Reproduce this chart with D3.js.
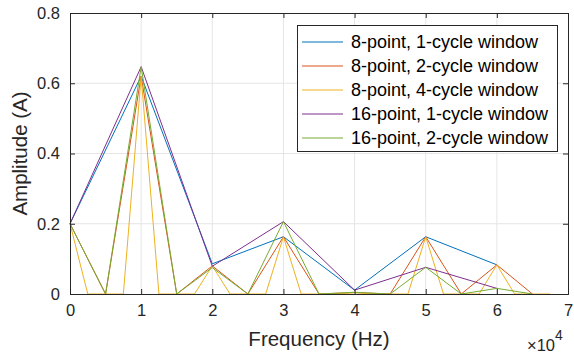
<!DOCTYPE html>
<html>
<head>
<meta charset="utf-8">
<script src="https://cdn.jsdelivr.net/npm/d3@7"></script>
<style>
  body { margin: 0; background: #fff; }
  svg { display: block; font-family: "Liberation Sans", Arial, sans-serif; }
</style>
</head>
<body>
<svg id="chart" width="574" height="354"></svg>
<script>
// amplitude spectra, frequency in units of 1e4 Hz
const names = ["8-point, 1-cycle window", "8-point, 2-cycle window", "8-point, 4-cycle window",
               "16-point, 1-cycle window", "16-point, 2-cycle window"];
const colors = ["#0072BD", "#D95319", "#EDB120", "#7E2F8E", "#77AC30"];

const freq1 = [0, 1, 2, 3, 4, 5, 6];
const freq2 = [0, 0.5, 1, 1.5, 2, 2.5, 3, 3.5, 4, 4.5, 5, 5.5, 6, 6.5];
const freq4 = [0, 0.25, 0.5, 0.75, 1, 1.25, 1.5, 1.75, 2, 2.25, 2.5, 2.75, 3, 3.25, 3.5, 3.75,
               4, 4.25, 4.5, 4.75, 5, 5.25, 5.5, 5.75, 6, 6.25, 6.5, 6.75];

const amp8_1 = [0.2, 0.62, 0.086, 0.163, 0.011, 0.163, 0.083];
const amp8_2 = [0.2, 0, 0.62, 0, 0.08, 0, 0.163, 0, 0.004, 0, 0.163, 0, 0.083, 0];
const amp8_4 = [0.2, 0, 0, 0, 0.62, 0, 0, 0, 0.08, 0, 0, 0, 0.163, 0, 0, 0,
                0.004, 0, 0, 0, 0.163, 0, 0, 0, 0.083, 0, 0, 0];
const amp16_1 = [0.2, 0.647, 0.079, 0.206, 0.011, 0.076, 0.016];
const amp16_2 = [0.2, 0, 0.647, 0, 0.075, 0, 0.206, 0, 0.005, 0, 0.076, 0, 0.016, 0];

const xTicks = [0, 1, 2, 3, 4, 5, 6, 7];
const yTicks = [0, 0.2, 0.4, 0.6, 0.8];

const series = [
  {x: freq1, y: amp8_1},
  {x: freq2, y: amp8_2},
  {x: freq4, y: amp8_4},
  {x: freq1, y: amp16_1},
  {x: freq2, y: amp16_2}
];

const svg = d3.select("#chart");
const m = {left: 70, right: 568, top: 13, bottom: 294};
const x = d3.scaleLinear().domain([0, 7]).range([m.left, m.right]);
const y = d3.scaleLinear().domain([0, 0.8]).range([m.bottom, m.top]);
const axisCol = "#262626";

// grid
const grid = svg.append("g").attr("stroke", "#e5e5e5").attr("stroke-width", 1);
grid.selectAll(".gx").data(xTicks.slice(1, -1)).join("line")
  .attr("x1", d => x(d)).attr("x2", d => x(d))
  .attr("y1", m.top).attr("y2", m.bottom);
grid.selectAll(".gy").data(yTicks.slice(1, -1)).join("line")
  .attr("y1", d => y(d)).attr("y2", d => y(d))
  .attr("x1", m.left).attr("x2", m.right);

// lines
const line = d3.line().x(d => x(d[0])).y(d => y(d[1]));
svg.append("g").selectAll("path").data(series).join("path")
  .attr("fill", "none")
  .attr("stroke", (d, i) => colors[i])
  .attr("stroke-width", 1)
  .attr("d", d => line(d.x.map((v, j) => [v, d.y[j]])));

// axes (box with inner ticks)
const tl = 5;
svg.append("g").attr("transform", `translate(0,${m.bottom})`)
  .call(d3.axisBottom(x).tickValues(xTicks).tickSize(-tl).tickPadding(10).tickFormat(d3.format("d")));
svg.append("g").attr("transform", `translate(${m.left},0)`)
  .call(d3.axisLeft(y).tickValues(yTicks).tickSize(-tl).tickPadding(10).tickFormat(d => d === 0 ? "0" : d3.format(".1f")(d)));
svg.append("g").attr("transform", `translate(0,${m.top})`)
  .call(d3.axisTop(x).tickValues(xTicks).tickSize(-tl).tickFormat(""));
svg.append("g").attr("transform", `translate(${m.right},0)`)
  .call(d3.axisRight(y).tickValues(yTicks).tickSize(-tl).tickFormat(""));

svg.selectAll(".domain").attr("stroke", axisCol);
svg.selectAll(".tick line").attr("stroke", axisCol);
svg.selectAll(".tick text").attr("fill", axisCol).attr("font-size", 16.5)
  .attr("font-family", "Liberation Sans, Arial, sans-serif");

// labels
svg.append("text").attr("x", (m.left + m.right) / 2).attr("y", 346)
  .attr("text-anchor", "middle").attr("font-size", 20.5).attr("fill", axisCol)
  .text("Frequency (Hz)");
svg.append("text").attr("transform", `translate(27,${(m.top + m.bottom) / 2}) rotate(-90)`)
  .attr("text-anchor", "middle").attr("font-size", 20.5).attr("fill", axisCol)
  .text("Amplitude (A)");
const ex = svg.append("text").attr("x", 527).attr("y", 351).attr("font-size", 16.5).attr("fill", axisCol);
ex.append("tspan").text("×10");
ex.append("tspan").attr("dy", -11).attr("font-size", 14).text("4");

// legend
const lg = svg.append("g");
lg.append("rect").attr("x", 297.5).attr("y", 25.5).attr("width", 260).attr("height", 126)
  .attr("fill", "#fff").attr("stroke", axisCol).attr("stroke-width", 1);
const rows = lg.selectAll("g.row").data(names).join("g")
  .attr("transform", (d, i) => `translate(0,${42 + i * 24})`);
rows.append("line").attr("x1", 302).attr("x2", 343)
  .attr("stroke", (d, i) => colors[i]).attr("stroke-width", 1);
rows.append("text").attr("x", 351).attr("dy", "0.35em").attr("font-size", 18)
  .attr("fill", "#000").text(d => d);
</script>
</body>
</html>
